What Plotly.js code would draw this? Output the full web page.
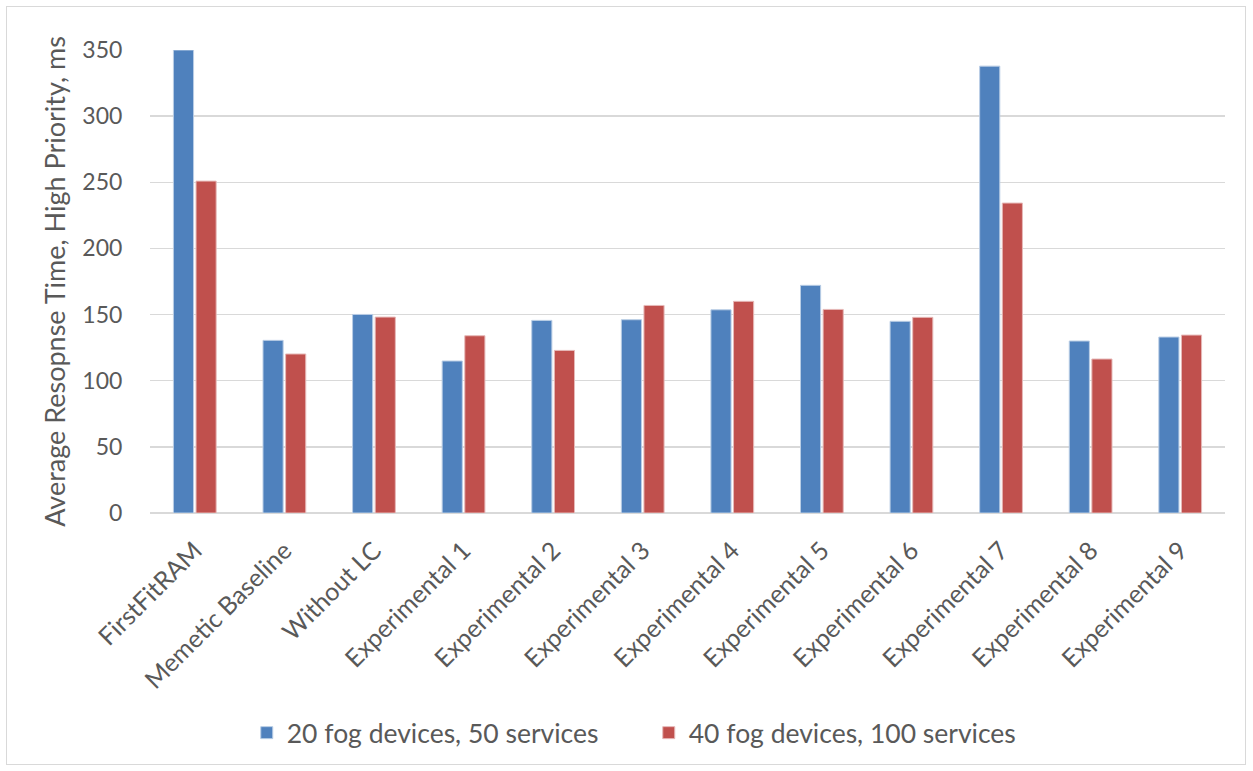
<!DOCTYPE html>
<html>
<head>
<meta charset="utf-8">
<script src="https://cdn.plot.ly/plotly-3.0.1.min.js"></script>
<style>
  html, body { margin: 0; padding: 0; background: #ffffff; }
  #wrap { position: relative; width: 1253px; height: 771px; }
  #chart { width: 1253px; height: 771px; }
  #frame { position: absolute; left: 6px; top: 6px; width: 1238px; height: 757px;
           border: 1px solid #d9d9d9; pointer-events: none; }
</style>
</head>
<body>
<div id="wrap">
  <div id="chart"></div>
  <div id="frame"></div>
</div>
<script>
const categories = ["FirstFitRAM", "Memetic Baseline", "Without LC", "Experimental 1",
  "Experimental 2", "Experimental 3", "Experimental 4", "Experimental 5",
  "Experimental 6", "Experimental 7", "Experimental 8", "Experimental 9"];
const series20 = [350, 130.5, 150.1, 114.9, 145.6, 146.1, 153.6, 172.1, 144.9, 337.8, 130.0, 133.0];
const series40 = [250.9, 120.2, 148.1, 134.0, 122.9, 156.9, 160.0, 153.9, 147.9, 234.3, 116.4, 134.5];
const seriesNames = ["20 fog devices, 50 services", "40 fog devices, 100 services"];
const yTicks = [0, 50, 100, 150, 200, 250, 300, 350];

const fontFam = "Lato, 'Open Sans', sans-serif";
const textCol = "#595959";

const traces = [
  { type: "bar", x: categories, y: series20, name: seriesNames[0],
    marker: { color: "#4F81BD", line: { color: "#b9cde5", width: 1 } } },
  { type: "bar", x: categories, y: series40, name: seriesNames[1],
    marker: { color: "#C0504D", line: { color: "#e6b9b8", width: 1 } } }
];

const layout = {
  width: 1253, height: 771,
  margin: { l: 150, r: 28, t: 50, b: 258 },
  paper_bgcolor: "#ffffff", plot_bgcolor: "#ffffff",
  font: { family: fontFam, color: textCol, size: 23 },
  barmode: "group", bargap: 0.495, bargroupgap: 0.11,
  showlegend: true,
  legend: { orientation: "h", x: 0.090, xanchor: "left", y: -0.475, yanchor: "middle",
            font: { size: 26.5, color: textCol }, itemwidth: 30, traceorder: "normal",
            entrywidth: 357, entrywidthmode: "pixels" },
  xaxis: { tickangle: -45, showgrid: false, showline: false, zeroline: false,
           tickfont: { size: 25, color: textCol }, ticks: "outside", ticklen: 12,
           tickcolor: "rgba(0,0,0,0)", automargin: false, fixedrange: true },
  yaxis: { range: [0, 350], tickvals: yTicks, ticktext: yTicks.map(String),
           showgrid: true, gridcolor: "#d9d9d9", gridwidth: 1.5,
           zeroline: true, zerolinecolor: "#d9d9d9", zerolinewidth: 2,
           showline: false, ticks: "outside", ticklen: 22, tickcolor: "rgba(0,0,0,0)",
           tickfont: { size: 23, color: textCol }, automargin: false,
           title: { text: "Average Resopnse Time, High Priority, ms",
                    font: { size: 27, color: textCol }, standoff: 8 } }
};

Plotly.newPlot("chart", traces, layout, { displayModeBar: false, staticPlot: true });
</script>
</body>
</html>
